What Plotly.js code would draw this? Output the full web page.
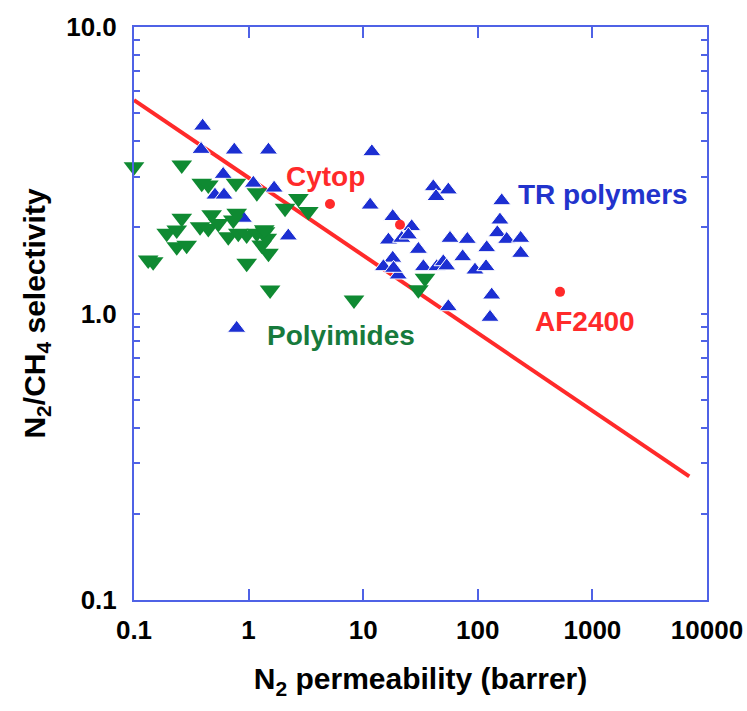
<!DOCTYPE html>
<html>
<head>
<meta charset="utf-8">
<script src="https://cdn.plot.ly/plotly-3.0.1.min.js"></script>
<style>html,body{margin:0;padding:0;background:#fff;}</style>
</head>
<body>
<div id="chart" style="width:747px;height:711px;"></div>
<script>
// TR polymers and other glassy polymers (blue up-triangles)
const trPerm = [0.397,0.385,0.75,1.49,11.9,0.60,1.10,1.67,0.509,0.61,11.5,2.22,0.90,0.787,
  40.9,55.3,43.2,18.1,26.5,16.6,21.7,24.8,30.3,18.1,15.0,20.2,18.4,33.5,43.8,50.0,53.5,57.2,81.0,73.8,
  119.6,94.5,118,161.7,156,148,178.7,236.7,236.7,132.2,55.3,127.8];
const trSel = [4.51,3.74,3.72,3.72,3.67,3.06,2.85,2.74,2.59,2.59,2.39,1.865,2.15,0.888,
  2.77,2.70,2.56,2.18,2.01,1.805,1.83,1.88,1.675,1.56,1.457,1.363,1.438,1.457,1.457,1.516,1.466,1.83,1.815,1.578,
  1.697,1.418,1.457,2.475,2.12,1.914,1.815,1.83,1.622,1.16,1.056,0.97];

// Polyimides (green down-triangles)
const piPerm = [0.1,0.261,0.39,0.445,0.776,1.18,2.08,2.72,3.32,0.261,0.476,0.787,0.193,0.236,0.377,0.445,0.544,
  0.665,0.813,0.962,1.18,1.39,1.44,0.236,0.288,0.147,0.133,1.49,0.962,1.54,8.31,30.3,34.6,0.735,1.30,1.37];
const piSel = [3.25,3.30,2.85,2.81,2.85,2.64,2.33,2.52,2.27,2.15,2.21,2.24,1.905,1.956,2.01,1.98,2.06,
  1.854,1.905,1.88,1.905,1.93,1.83,1.71,1.73,1.516,1.537,1.622,1.497,1.208,1.115,1.21,1.327,2.12,1.735,1.96];

// Perfluoropolymers (red dots): Cytop, (unlabelled), AF2400
const pfPerm = [5.13, 20.95, 521.7];
const pfSel = [2.41, 2.04, 1.19];

// Upper bound line
const boundPerm = [0.1, 7000];
const boundSel = [5.56, 0.27];

// Axis ticks
const xTickVals = [0.1, 1, 10, 100, 1000, 10000];
const xTickText = ['0.1', '1', '10', '100', '1000', '10000'];
const yTickVals = [0.1, 1, 10];
const yTickText = ['0.1', '1.0', '10.0'];
const yMinorVals = [0.2,0.3,0.4,0.5,0.6,0.7,0.8,0.9,2,3,4,5,6,7,8,9];

const AXIS = '#4f62e6';
const BLUE = '#1c2fd2';
const GREEN = '#0f8a32';
const RED = '#ff2a2a';
const FONT = 'Liberation Sans, Arial, sans-serif';

const traces = [
  {x: boundPerm, y: boundSel, type: 'scatter', mode: 'lines',
   line: {color: RED, width: 4}, hoverinfo: 'skip', showlegend: false},
  {x: trPerm, y: trSel, type: 'scatter', mode: 'markers', name: 'TR polymers',
   marker: {symbol: 'triangle-up', size: 16, color: BLUE, line: {color: '#ffffff', width: 1}},
   cliponaxis: false, showlegend: false},
  {x: piPerm, y: piSel, type: 'scatter', mode: 'markers', name: 'Polyimides',
   marker: {symbol: 'triangle-down', size: 18, color: GREEN, line: {width: 0}},
   cliponaxis: false, showlegend: false},
  {x: pfPerm, y: pfSel, type: 'scatter', mode: 'markers', name: 'Perfluoropolymers',
   marker: {symbol: 'circle', size: 10, color: RED, line: {width: 0}},
   cliponaxis: false, showlegend: false}
];

const annFont = (c) => ({family: FONT, size: 28, color: c, weight: 'bold'});

const layout = {
  width: 747, height: 711,
  margin: {l: 134, r: 40, t: 27, b: 111, pad: 0},
  paper_bgcolor: '#ffffff', plot_bgcolor: '#ffffff',
  showlegend: false,
  xaxis: {
    type: 'log', range: [-1, 4], autorange: false,
    tickmode: 'array', tickvals: xTickVals, ticktext: xTickText,
    ticks: 'inside', ticklen: 11, tickwidth: 2, tickcolor: AXIS,
    showline: true, linecolor: AXIS, linewidth: 2, mirror: 'ticks',
    showgrid: false, zeroline: false, ticklabelstandoff: 6,
    tickfont: {family: FONT, size: 26, color: '#000', weight: 'bold'},
    title: {text: 'N<sub>2</sub> permeability (barrer)', standoff: 24,
            font: {family: FONT, size: 30, color: '#000', weight: 'bold'}}
  },
  yaxis: {
    type: 'log', range: [-1, 1], autorange: false,
    tickmode: 'array', tickvals: yTickVals, ticktext: yTickText,
    ticks: 'inside', ticklen: 6, tickwidth: 2, tickcolor: AXIS,
    minor: {tickmode: 'array', tickvals: yMinorVals, ticks: 'inside', ticklen: 6,
            tickwidth: 2, tickcolor: AXIS, showgrid: false},
    showline: true, linecolor: AXIS, linewidth: 2, mirror: 'ticks',
    showgrid: false, zeroline: false, ticklabelstandoff: 10,
    tickfont: {family: FONT, size: 26, color: '#000', weight: 'bold'},
    title: {text: 'N<sub>2</sub>/CH<sub>4</sub> selectivity', standoff: 12,
            font: {family: FONT, size: 30, color: '#000', weight: 'bold'}}
  },
  annotations: [
    {x: Math.log10(4.73), y: Math.log10(3.0), text: 'Cytop', showarrow: false, font: annFont(RED)},
    {x: Math.log10(1240), y: Math.log10(2.61), text: 'TR polymers', showarrow: false, font: annFont('#2233cc')},
    {x: Math.log10(6.4), y: Math.log10(0.84), text: 'Polyimides', showarrow: false, font: annFont('#177a3c')},
    {x: Math.log10(860), y: Math.log10(0.94), text: 'AF2400', showarrow: false, font: annFont(RED)}
  ]
};

Plotly.newPlot('chart', traces, layout, {staticPlot: true, displayModeBar: false});
</script>
</body>
</html>
